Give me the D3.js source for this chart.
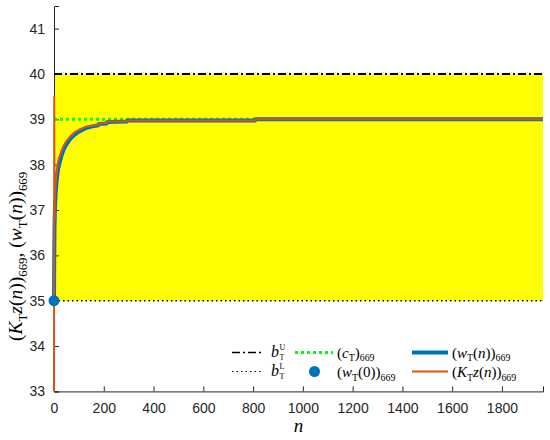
<!DOCTYPE html>
<html>
<head>
<meta charset="utf-8">
<script src="https://cdn.jsdelivr.net/npm/d3@7/dist/d3.min.js"></script>
<style>
  html, body { margin: 0; padding: 0; background: #fff; }
  svg { display: block; }
</style>
</head>
<body>
<svg id="chart" width="550" height="440"></svg>
<script>
// ---------- data ----------
const xTicks = [0, 200, 400, 600, 800, 1000, 1200, 1400, 1600, 1800];
const yTicks = [33, 34, 35, 36, 37, 38, 39, 40, 41];
const xDomain = [0, 1965];
const yDomain = [33, 41.5];
const bUpper = 40;
const bLower = 35;
const cT = 39;
const w0 = 35;
const wN = [0, 1, 2, 4, 7, 10, 15, 20, 30, 40, 50, 65, 80, 100, 125, 150, 178, 180, 212, 214, 292, 294, 808, 810, 1965];
const wVal = [35, 36.0, 36.6, 37.1, 37.4, 37.6, 37.85, 38.0, 38.2, 38.35, 38.45, 38.57, 38.65, 38.73, 38.8, 38.84, 38.87, 38.9, 38.91, 38.94, 38.95, 38.975, 38.975, 39.0, 39.0];
const kN = [0, 1, 2, 4, 7, 10, 15, 20, 30, 40, 50, 65, 80, 100, 125, 150, 178, 180, 212, 214, 292, 294, 808, 810, 1965];
const kVal = [33, 39.5, 36.8, 37.3, 37.6, 37.8, 38.02, 38.14, 38.3, 38.43, 38.52, 38.62, 38.7, 38.77, 38.83, 38.86, 38.88, 38.91, 38.92, 38.95, 38.955, 38.975, 38.975, 39.0, 39.0];

// ---------- layout ----------
const svg = d3.select("#chart");
const L = 54, R = 543, T = 6, B = 391.4;
const x = d3.scaleLinear().domain(xDomain).range([L, R]);
const y = d3.scaleLinear().domain(yDomain).range([B, T]);
const axisColor = "#262626";
const blue = "#0072BD", red = "#D95319";
const serif = "'Liberation Serif', 'DejaVu Serif', serif";
const sans = "'Liberation Sans', Arial, sans-serif";

svg.append("defs").append("clipPath").attr("id", "clip")
  .append("rect").attr("x", L - 4).attr("y", T).attr("width", R - L + 4).attr("height", B - T);

// yellow band
svg.append("rect")
  .attr("x", x(xDomain[0])).attr("width", x(xDomain[1]) - x(xDomain[0]))
  .attr("y", y(bUpper)).attr("height", y(bLower) - y(bUpper))
  .attr("fill", "#ffff00");

// ---------- axes ----------
const xAxis = d3.axisBottom(x).tickValues(xTicks).tickSize(-5).tickPadding(12).tickFormat(d3.format("d"));
const yAxis = d3.axisLeft(y).tickValues(yTicks).tickSize(-5).tickPadding(8).tickFormat(d3.format("d"));

const gx = svg.append("g").attr("transform", `translate(0,${B})`).call(xAxis);
const gy = svg.append("g").attr("transform", `translate(${L},0)`).call(yAxis);
[gx, gy].forEach(g => {
  g.select(".domain").attr("stroke", axisColor).attr("stroke-width", 1);
  g.selectAll(".tick line").attr("stroke", axisColor).attr("stroke-width", 1);
  g.selectAll(".tick text").attr("fill", axisColor).attr("font-family", sans).attr("font-size", 14);
});
gy.selectAll(".tick text").attr("dx", "-1");

const plot = svg.append("g").attr("clip-path", "url(#clip)");

// bounds
plot.append("line").attr("x1", x(xDomain[0])).attr("x2", x(xDomain[1]))
  .attr("y1", y(bUpper)).attr("y2", y(bUpper))
  .attr("stroke", "#000").attr("stroke-width", 2).attr("stroke-dasharray", "8,3,2,3");
plot.append("line").attr("x1", x(xDomain[0])).attr("x2", x(xDomain[1]))
  .attr("y1", y(bLower)).attr("y2", y(bLower))
  .attr("stroke", "#000").attr("stroke-width", 1.5).attr("stroke-dasharray", "1.5,3");
plot.append("line").attr("x1", x(xDomain[0])).attr("x2", x(xDomain[1]))
  .attr("y1", y(cT)).attr("y2", y(cT))
  .attr("stroke", "#00ff00").attr("stroke-width", 3).attr("stroke-dasharray", "3,3");

const line = d3.line().x(d => x(d[0])).y(d => y(d[1]));
const wData = wN.map((n, i) => [n, wVal[i]]);
const kData = kN.map((n, i) => [n, kVal[i]]);

plot.append("path").datum(wData).attr("d", line)
  .attr("fill", "none").attr("stroke", blue).attr("stroke-width", 4).attr("stroke-linejoin", "round");
plot.append("path").datum(kData).attr("d", line)
  .attr("fill", "none").attr("stroke", red).attr("stroke-width", 2).attr("stroke-linejoin", "round");

svg.append("circle").attr("cx", x(0)).attr("cy", y(w0)).attr("r", 5.5).attr("fill", blue);

// ---------- rich text helper ----------
function rich(parent, px, py, segs, size) {
  const t = parent.append("text").attr("x", px).attr("y", py)
    .attr("font-family", serif).attr("font-size", size).attr("fill", "#000");
  let shift = 0;
  segs.forEach(s => {
    const [txt, st] = s;
    const ts = t.append("tspan").text(txt);
    let target = 0, fs = size;
    if (st === "sub") { target = 0.25 * size; fs = 0.66 * size; }
    ts.attr("font-size", fs);
    ts.attr("font-style", st === "i" ? "italic" : "normal");
    if (target !== shift) { ts.attr("dy", target - shift); shift = target; }
  });
  return t;
}

// axis labels
const xl = rich(svg, 0, 432, [["n", "i"]], 19);
const xw = xl.node().getBBox().width;
xl.attr("x", (L + R) / 2 - xw / 2);

const yl = svg.append("g").attr("transform", `translate(22,341) rotate(-90)`);
rich(yl, 0, 0, [
  ["(", "r"], ["K", "i"], ["T", "sub"], ["z", "i"], ["(", "r"], ["n", "i"], ["))", "r"], ["669", "sub"],
  [", (", "r"], ["w", "i"], ["T", "sub"], ["(", "r"], ["n", "i"], ["))", "r"], ["669", "sub"]
], 19.5);

// ---------- legend ----------
const lg = svg.append("g");
const row1 = 352.5, row2 = 371.5;
// col 1
lg.append("line").attr("x1", 232).attr("x2", 263).attr("y1", row1).attr("y2", row1)
  .attr("stroke", "#000").attr("stroke-width", 1.5).attr("stroke-dasharray", "8,3,2,3");
lg.append("line").attr("x1", 232).attr("x2", 263).attr("y1", row2).attr("y2", row2)
  .attr("stroke", "#000").attr("stroke-width", 1.2).attr("stroke-dasharray", "1.5,3");
function bLabel(px, py, sup) {
  const b = lg.append("text").attr("x", px).attr("y", py).attr("font-family", serif)
    .attr("font-size", 16).attr("font-style", "italic").text("b");
  const w = b.node().getComputedTextLength();
  lg.append("text").attr("x", px + w + 0.5).attr("y", py - 6.5).attr("font-family", serif)
    .attr("font-size", 8).text(sup);
  lg.append("text").attr("x", px + w + 0.5).attr("y", py + 3.5).attr("font-family", serif)
    .attr("font-size", 8).text("T");
}
bLabel(271, row1 + 4, "U");
bLabel(271, row2 + 4, "L");
// col 2
lg.append("line").attr("x1", 295).attr("x2", 333).attr("y1", row1).attr("y2", row1)
  .attr("stroke", "#00ff00").attr("stroke-width", 3).attr("stroke-dasharray", "3,3");
lg.append("circle").attr("cx", 314.5).attr("cy", row2).attr("r", 5.5).attr("fill", blue);
rich(lg, 337, row1 + 5, [["(", "r"], ["c", "i"], ["T", "sub"], [")", "r"], ["669", "sub"]], 15);
rich(lg, 337, row2 + 5.5, [["(", "r"], ["w", "i"], ["T", "sub"], ["(0))", "r"], ["669", "sub"]], 15);
// col 3
lg.append("line").attr("x1", 412).attr("x2", 448).attr("y1", row1).attr("y2", row1)
  .attr("stroke", blue).attr("stroke-width", 4);
lg.append("line").attr("x1", 412).attr("x2", 448).attr("y1", row2).attr("y2", row2)
  .attr("stroke", red).attr("stroke-width", 2);
rich(lg, 452, row1 + 5, [["(", "r"], ["w", "i"], ["T", "sub"], ["(", "r"], ["n", "i"], ["))", "r"], ["669", "sub"]], 15);
rich(lg, 452, row2 + 5.5, [["(", "r"], ["K", "i"], ["T", "sub"], ["z", "i"], ["(", "r"], ["n", "i"], ["))", "r"], ["669", "sub"]], 15);
</script>
</body>
</html>
